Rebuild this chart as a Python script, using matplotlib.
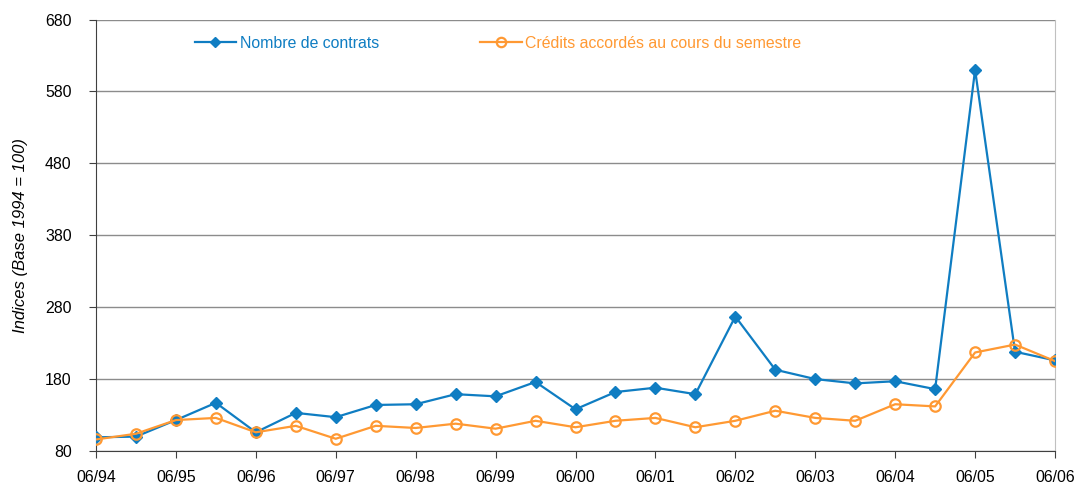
import matplotlib
matplotlib.use("Agg")
import matplotlib.pyplot as plt

# ---------------------------------------------------------------------------
# Data (semi-annual index values, base 1994 = 100)
# ---------------------------------------------------------------------------

year_labels = ["06/94", "06/95", "06/96", "06/97", "06/98", "06/99", "06/00",
               "06/01", "06/02", "06/03", "06/04", "06/05", "06/06"]

nb_contrats = [99, 100, 123, 147, 106, 133, 127, 144, 145, 159, 156, 176, 138,
               162, 168, 159, 267, 193, 180, 174, 177, 166, 610, 218, 206]

credits = [96, 104, 123, 126, 106, 115, 97, 115, 112, 118, 111, 122, 113,
           122, 126, 113, 122, 136, 126, 122, 145, 142, 217, 228, 205]

BLUE = "#0F7DC2"
ORANGE = "#FF9933"

plt.rcParams["font.family"] = ["Liberation Sans", "DejaVu Sans"]

fig = plt.figure(figsize=(10.75, 4.84), dpi=100)
ax = fig.add_axes([0.0893, 0.0682, 0.8921, 0.8915])

x = list(range(len(nb_contrats)))
ax.plot(x, nb_contrats, color=BLUE, linewidth=1.6, marker="D", markersize=6,
        label="Nombre de contrats", zorder=3)
ax.plot(x, credits, color=ORANGE, linewidth=1.6, marker="o", markersize=7.5,
        markerfacecolor="none", markeredgewidth=1.6,
        label="Crédits accordés au cours du semestre", zorder=4)

ax.set_xlim(0, len(x) - 1)
ax.set_ylim(80, 680)
ax.set_yticks(range(80, 681, 100))
ax.set_xticks(range(0, len(x), 2))
ax.set_xticklabels(year_labels)
ax.tick_params(axis="both", labelsize=11.4, color="#404040", length=5,
               direction="out")
ax.tick_params(axis="x", pad=8.5)
ax.tick_params(axis="y", pad=12.5)

ax.grid(True, axis="y", color="#8c8c8c", linewidth=1)
ax.set_axisbelow(True)
ax.spines["top"].set_visible(False)
ax.spines["right"].set_color("#c0c0c0")
ax.spines["left"].set_color("#404040")
ax.spines["bottom"].set_color("#404040")

ax.set_ylabel("Indices (Base 1994 = 100)", fontsize=12, style="italic",
              labelpad=12.5)

ax.legend(loc="upper left", bbox_to_anchor=(0.088, 0.995), ncol=2,
          frameon=False, fontsize=11.4, handlelength=2.6, handletextpad=0.25,
          columnspacing=6.4, labelcolor="linecolor", markerscale=0.9)

fig.savefig("out.png", dpi=100)
